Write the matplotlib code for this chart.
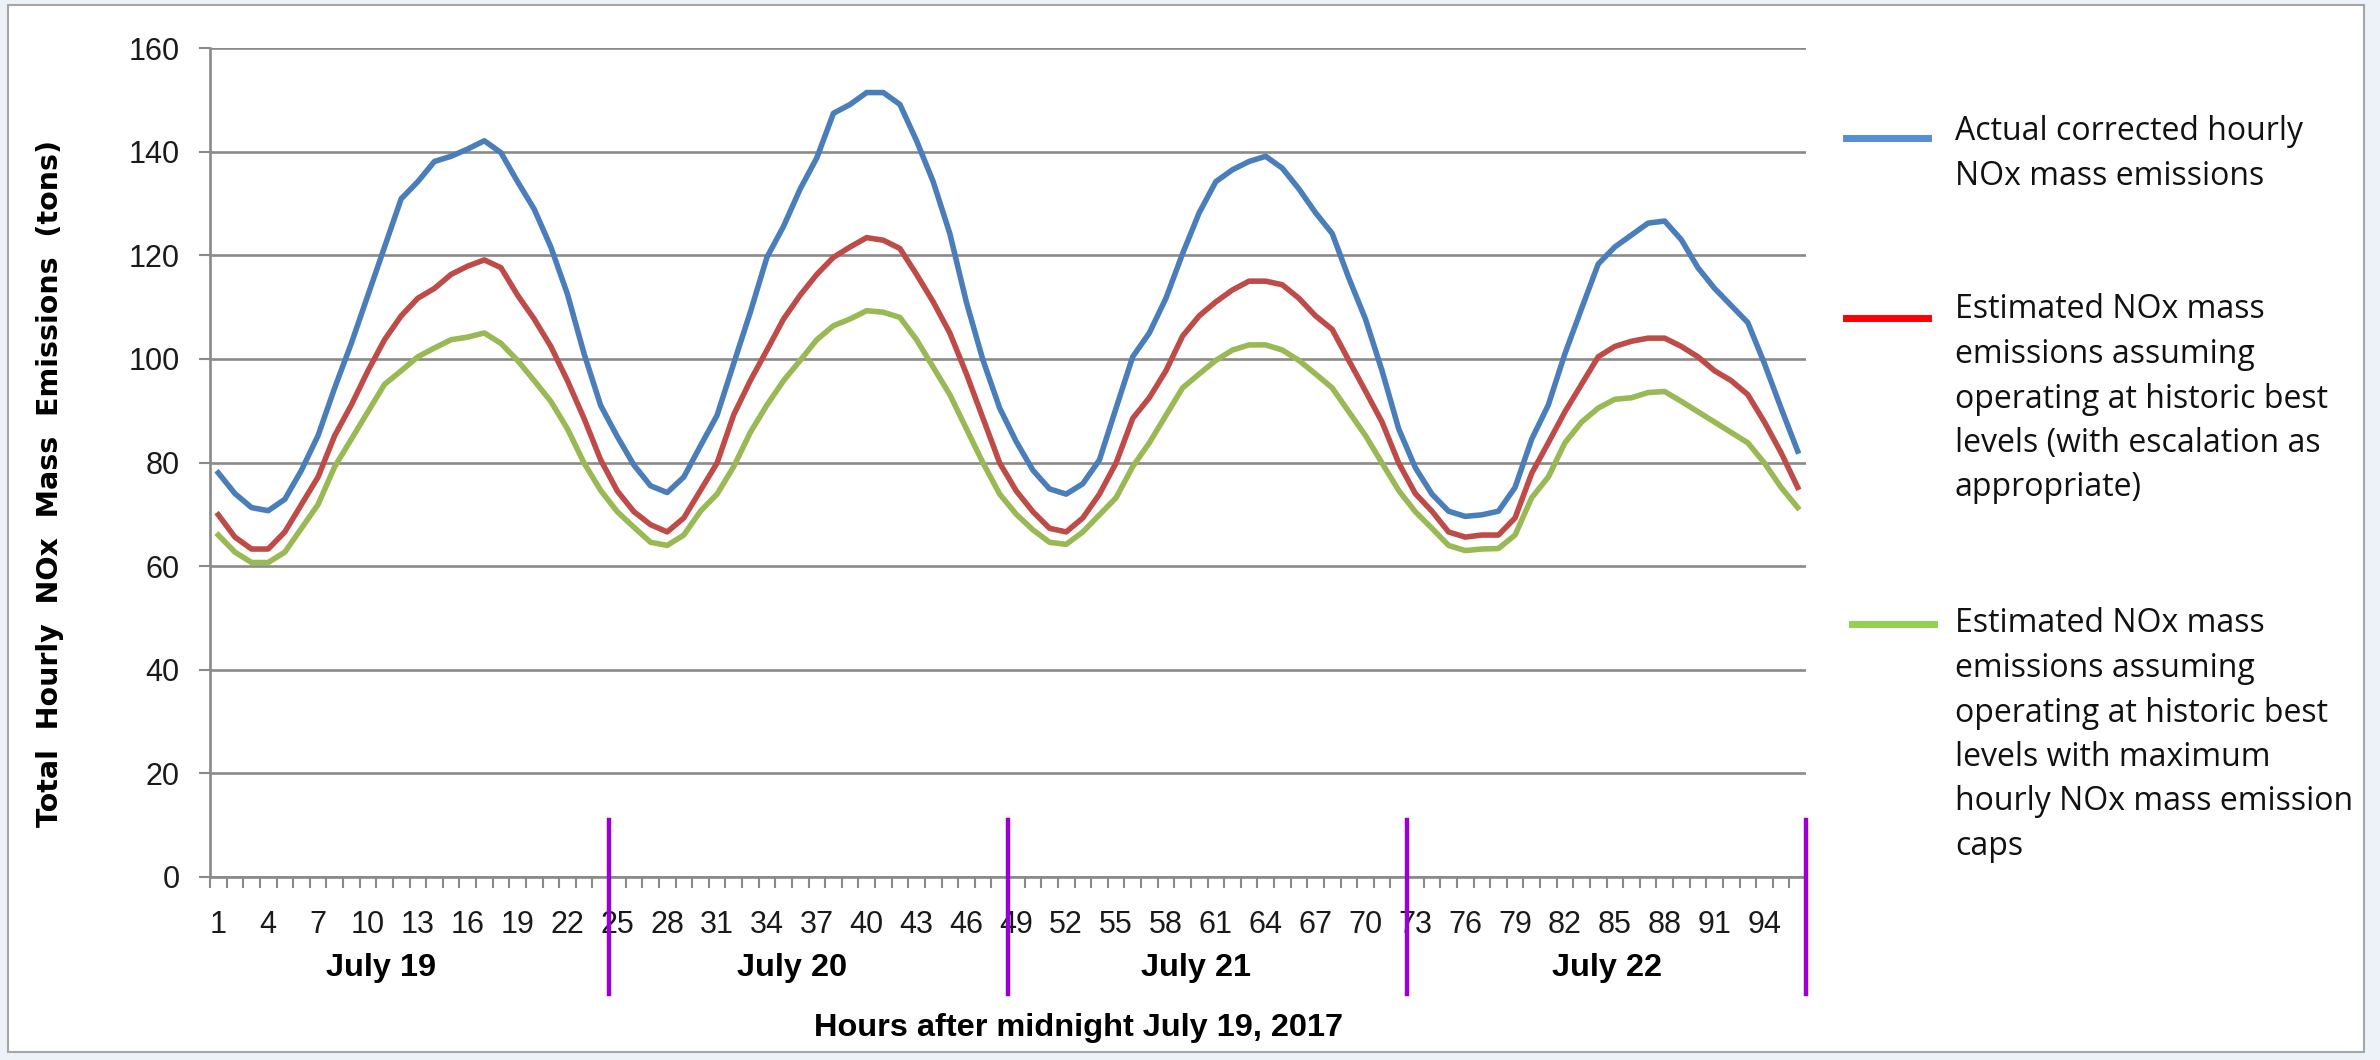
import matplotlib
matplotlib.use('Agg')
import matplotlib.pyplot as plt
from matplotlib.lines import Line2D
from matplotlib.patches import Rectangle

# hourly data, hour 1..96 after midnight July 19, 2017
hours = list(range(1, 97))

actual = [78, 74, 71.3, 70.7, 72.9, 78.5, 85.2, 94.4, 103, 112.3, 121.6, 130.9,
          134.2, 138.1, 139.1, 140.5, 142.1, 139.8, 134.2, 128.9, 121.6, 112.5, 101, 91,
          85, 79.5, 75.5, 74.2, 77.2, 83.2, 89.1, 99.1, 109, 119.6, 125.6, 132.8,
          138.8, 147.4, 149.1, 151.4, 151.4, 149.1, 142.1, 134.2, 124.2, 110.9, 99.7, 90.5,
          84, 78.5, 74.9, 73.9, 75.9, 80.5, 90.5, 100.4, 105, 111.7, 120.3, 128.2,
          134.2, 136.5, 138.1, 139.1, 136.8, 132.8, 128.2, 124.2, 115.6, 107.7, 97.7, 86.5,
          79, 73.9, 70.6, 69.6, 69.9, 70.6, 75.2, 84.5, 91.1, 101, 109.7, 118.3,
          121.6, 123.9, 126.2, 126.6, 123, 117.6, 113.6, 110.3, 107, 99.1, 90.5, 82.2]

historic_best = [69.9, 65.6, 63.3, 63.3, 66.6, 71.9, 77.2, 85.2, 91.1, 97.7, 103.7, 108.3,
                 111.7, 113.6, 116.3, 117.9, 119.1, 117.6, 112.3, 107.7, 102.4, 95.8, 88.5, 80.5,
                 74.5, 70.5, 68, 66.6, 69.3, 74.6, 79.9, 89.2, 95.8, 101.7, 107.7, 112.3,
                 116.3, 119.6, 121.6, 123.4, 122.9, 121.3, 116.3, 111, 105, 97.1, 88.5, 79.9,
                 74.5, 70.5, 67.3, 66.6, 69.3, 73.9, 79.9, 88.5, 92.5, 97.7, 104.4, 108.3,
                 111, 113.3, 115, 115, 114.3, 111.7, 108.3, 105.7, 99.7, 93.8, 87.8, 79.9,
                 74, 70.6, 66.6, 65.6, 66, 66, 69.3, 77.9, 83.8, 89.8, 95.1, 100.4,
                 102.4, 103.4, 104, 104, 102.4, 100.4, 97.7, 95.8, 93.1, 87.8, 81.9, 75.2]

with_caps = [66, 62.7, 60.7, 60.7, 62.7, 67.3, 71.9, 79.2, 84.5, 89.8, 95.1, 97.7,
             100.4, 102.1, 103.7, 104.2, 105, 103, 99.7, 95.8, 91.8, 86.5, 79.9, 74.6,
             70.5, 67.5, 64.6, 64, 66, 70.6, 73.9, 79.2, 85.8, 91.1, 95.8, 99.7,
             103.7, 106.4, 107.7, 109.3, 109, 108, 103.7, 98.4, 93.1, 86.5, 79.9, 73.9,
             70, 67, 64.6, 64.2, 66.6, 69.9, 73.2, 79.2, 83.8, 89.1, 94.4, 97.1,
             99.7, 101.7, 102.7, 102.7, 101.7, 99.7, 97.1, 94.4, 89.8, 85.2, 79.9, 74.6,
             70.5, 67.3, 64, 63, 63.3, 63.4, 66, 73.2, 77.2, 83.8, 87.8, 90.5,
             92.2, 92.5, 93.5, 93.7, 91.8, 89.8, 87.8, 85.8, 83.8, 79.9, 75.2, 71.3]

day_labels = ['July 19', 'July 20', 'July 21', 'July 22']
day_bounds = [24.5, 48.5, 72.5, 96.5]

legend_labels = [
    ['Actual corrected hourly', 'NOx mass emissions'],
    ['Estimated NOx mass', 'emissions assuming', 'operating at historic best',
     'levels (with escalation as', 'appropriate)'],
    ['Estimated NOx mass', 'emissions assuming', 'operating at historic best',
     'levels with maximum', 'hourly NOx mass emission', 'caps'],
]

W, H = 2380, 1060
fig = plt.figure(figsize=(W / 100, H / 100), dpi=100, facecolor='#EDF2F9')


def fx(x):
    return x / W


def fy(y):
    return 1 - y / H


# white panel with grey border
fig.add_artist(Rectangle((fx(8), fy(1052)), fx(2364 - 8), (1052 - 5) / H,
                         transform=fig.transFigure, facecolor='white',
                         edgecolor='#A6A6A6', lw=1.5, zorder=0))

ax = fig.add_axes([fx(210), fy(877), fx(1806 - 210), (877 - 48) / H])
ax.set_facecolor('none')

ax.plot(hours, actual, color='#4A7EBB', lw=4, zorder=3)
ax.plot(hours, historic_best, color='#BE4B48', lw=4, zorder=3)
ax.plot(hours, with_caps, color='#98B954', lw=4, zorder=3)

ax.set_xlim(0.5, 96.5)
ax.set_ylim(0, 160)
ax.set_yticks(range(0, 161, 20))
ax.yaxis.grid(True, color='#8A8A8A', lw=1.9)
ax.set_axisbelow(True)

for s in ['top', 'right']:
    ax.spines[s].set_visible(False)
for s in ['left', 'bottom']:
    ax.spines[s].set_color('#8A8A8A')
    ax.spines[s].set_linewidth(1.9)

ax.set_xticks(hours[::3])
ax.set_xticks([h + 0.5 for h in range(0, 97)], minor=True)
ax.tick_params(axis='x', which='major', length=0, pad=24)
ax.tick_params(axis='x', which='minor', length=8, width=1.5, color='#8A8A8A')
ax.tick_params(axis='y', length=8, width=1.5, color='#8A8A8A', pad=14)
for lab in ax.get_xticklabels() + ax.get_yticklabels():
    lab.set_fontfamily('Liberation Sans')
    lab.set_fontsize(22)
    lab.set_color('#1A1A1A')

fig.text(fx(50), fy(483), 'Total  Hourly  NOx  Mass  Emissions  (tons)', rotation=90,
         ha='center', va='center', fontsize=20.5, fontweight='bold', family='DejaVu Sans')

# purple day separators
for b in day_bounds:
    ax.axvline(b, ymin=-0.141, ymax=0.069, color='#9B00D3', lw=3.2, clip_on=False, zorder=4)

day_centers = [10.8, 35.5, 59.8, 84.5]
for lab, c in zip(day_labels, day_centers):
    ax.text(c, -(968 - 877) / 5.18, lab, ha='center', va='center', fontsize=23.4,
            fontweight='bold', family='Liberation Sans')

fig.text(fx(1078), fy(1028), 'Hours after midnight July 19, 2017', ha='center',
         va='center', fontsize=23.4, fontweight='bold', family='Liberation Sans')

# legend on the right
leg_colors = ['#558ED5', '#FF0000', '#92D050']
leg_line_y = [138, 318, 624]
leg_line_x = [(1846, 1928), (1846, 1928), (1852, 1934)]
leg_text_y = [132, 310, 624]
for col, ly, (x0, x1), ty, lines in zip(leg_colors, leg_line_y, leg_line_x,
                                        leg_text_y, legend_labels):
    fig.add_artist(Line2D([fx(x0), fx(x1)], [fy(ly), fy(ly)], color=col, lw=5,
                          transform=fig.transFigure))
    for i, t in enumerate(lines):
        fig.text(fx(1955), fy(ty + i * 44.5), t, ha='left', va='center',
                 fontsize=23, family='Open Sans', color='#111111')

fig.savefig('out.png', dpi=100, facecolor=fig.get_facecolor())
